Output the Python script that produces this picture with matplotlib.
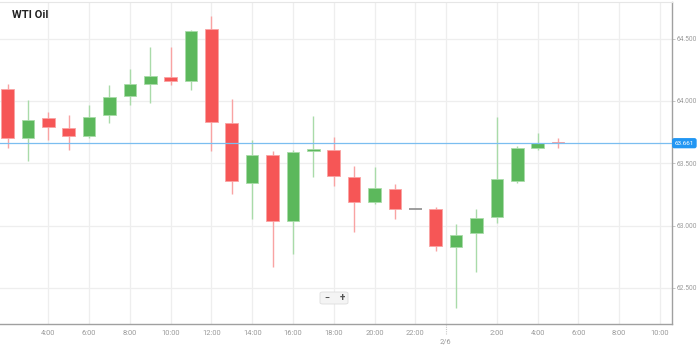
import matplotlib
matplotlib.use("Agg")
import matplotlib.pyplot as plt
from matplotlib.patches import FancyBboxPatch
import matplotlib.transforms as mtransforms

# ---- data (hour of candle; hours >= 24 belong to 2/6) ----
hours = list(range(2, 30))
opens  = [64.10, 63.70, 63.86, 63.78, 63.72, 63.89, 64.04, 64.14, 64.19, 64.16,
          64.58, 63.82, 63.34, 63.57, 63.04, 63.60, 63.61, 63.39, 63.19, 63.29,
          63.135, 63.13, 62.825, 62.94, 63.065, 63.355, 63.62, 63.67]
highs  = [64.14, 64.01, 63.91, 63.89, 63.97, 64.13, 64.26, 64.43, 64.43, 64.57,
          64.68, 64.02, 63.69, 63.60, 63.61, 63.88, 63.71, 63.48, 63.47, 63.33,
          63.135, 63.15, 63.01, 63.135, 63.87, 63.635, 63.74, 63.70]
lows   = [63.62, 63.52, 63.69, 63.61, 63.70, 63.82, 63.97, 63.98, 64.13, 64.09,
          63.60, 63.25, 63.05, 62.67, 62.77, 63.39, 63.32, 62.95, 63.17, 63.05,
          63.135, 62.795, 62.335, 62.63, 63.02, 63.34, 63.605, 63.62]
closes = [63.70, 63.85, 63.79, 63.72, 63.87, 64.035, 64.14, 64.20, 64.16, 64.565,
          63.83, 63.36, 63.57, 63.04, 63.59, 63.615, 63.395, 63.19, 63.30, 63.135,
          63.135, 62.835, 62.925, 63.06, 63.37, 63.62, 63.663, 63.661]
current_price = 63.661

y_ticks = [62.5, 63.0, 63.5, 64.0, 64.5]
y_tick_labels = ["62.500", "63.000", "63.500", "64.000", "64.500"]
x_ticks = [4, 6, 8, 10, 12, 14, 16, 18, 20, 22, 26, 28, 30, 32, 34]
x_tick_labels = ["4:00", "6:00", "8:00", "10:00", "12:00", "14:00", "16:00", "18:00",
                 "20:00", "22:00", "2:00", "4:00", "6:00", "8:00", "10:00"]
date_marker = 23.5
date_label = "2/6"
title = "WTI Oil"

# ---- style ----
plt.rcParams['font.family'] = ['Roboto', 'DejaVu Sans']
RED, RED_W = "#f65656", "#f9a3a3"
GREEN, GREEN_W = "#5cb85c", "#a9dba9"
GRAY = "#9a9a9a"
GRID = "#eeeeee"

W, H = 699, 348
fig = plt.figure(figsize=(W / 100, H / 100), dpi=100)
ax_left, ax_right, ax_top, ax_bottom = 0, 672, 2, 324
ax = fig.add_axes([ax_left / W, 1 - ax_bottom / H, (ax_right - ax_left) / W, (ax_bottom - ax_top) / H])
ax.set_xlim(1.632, 34.59)
ax.set_ylim(62.209, 64.795)

# grid
for xv in x_ticks + [date_marker]:
    ax.axvline(xv, color=GRID, lw=0.9, zorder=0)
for yv in y_ticks:
    ax.axhline(yv, color=GRID, lw=0.9, zorder=0)

# candles
bw = 0.62
for h, o, hi, lo, c in zip(hours, opens, highs, lows, closes):
    if abs(c - o) < 1e-9:
        ax.hlines(o, h - bw / 2, h + bw / 2, color="#8c8c8c", lw=1.2, zorder=3)
        continue
    up = c > o
    col, wcol = (GREEN, GREEN_W) if up else (RED, RED_W)
    ax.vlines(h, lo, hi, color=wcol, lw=1.0, zorder=2)
    bot = min(o, c)
    ht = max(abs(c - o), 0.012)
    ax.bar(h, ht, bottom=bot, width=bw, color=col, edgecolor=wcol, linewidth=0.6, zorder=3)

# current price line
ax.axhline(current_price, color="#7bbef0", lw=0.9, zorder=4)
ax.text(1.004, current_price, "63.661", transform=mtransforms.blended_transform_factory(ax.transAxes, ax.transData),
        ha="left", va="center", fontsize=4.6, color="white", zorder=6, clip_on=False,
        bbox=dict(boxstyle="round,pad=0.3,rounding_size=0.25", fc="#2196f3", ec="#2196f3"))

# spines
ax.spines["left"].set_visible(False)
ax.spines["top"].set_color("#e6e6e6")
ax.spines["top"].set_linewidth(0.8)
ax.spines["right"].set_color("#a0a0a0")
ax.spines["bottom"].set_color("#a0a0a0")
ax.spines["right"].set_linewidth(1.0)
ax.spines["bottom"].set_linewidth(1.0)

ax.yaxis.tick_right()
ax.set_yticks(y_ticks)
ax.set_yticklabels(y_tick_labels)
ax.tick_params(axis="y", length=2.0, width=0.6, color="#bbbbbb", labelsize=4.8, labelcolor=GRAY, pad=1.0)
ax.set_xticks(x_ticks)
ax.set_xticklabels(x_tick_labels)
ax.tick_params(axis="x", length=0, labelsize=5.4, labelcolor=GRAY, pad=4)

# date marker below axis
trans = mtransforms.blended_transform_factory(ax.transData, ax.transAxes)
ax.plot([date_marker, date_marker], [0, -11 / 322], color="#c8c8c8", lw=0.8, ls=(0, (1, 1)),
        transform=trans, clip_on=False)
ax.text(date_marker, -18.5 / 322, date_label, transform=trans, ha="center", va="center",
        fontsize=5.4, color=GRAY, clip_on=False)

# title
fig.text(12 / W, 1 - 15 / H, title, fontsize=8, fontweight="bold", color="#222222",
         ha="left", va="center")

# zoom buttons
btn = FancyBboxPatch((320 / W, 1 - 304 / H), 28 / W, 12 / H, boxstyle="round,pad=0,rounding_size=0.004",
                     transform=fig.transFigure, fc="#f4f4f4", ec="#dddddd", lw=0.6, zorder=10)
fig.patches.append(btn)
fig.text(327 / W, 1 - 298 / H, "\u2212", fontsize=6.5, fontweight="bold", color="#555555",
         ha="center", va="center", zorder=11)
fig.text(342 / W, 1 - 298 / H, "+", fontsize=7, fontweight="bold", color="#555555",
         ha="center", va="center", zorder=11)

fig.savefig("out.png", dpi=100)
